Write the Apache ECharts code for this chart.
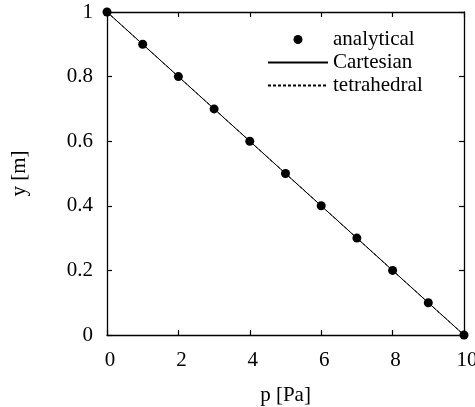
<!DOCTYPE html>
<html><head><meta charset="utf-8">
<script src="https://cdn.jsdelivr.net/npm/echarts@6/dist/echarts.min.js"></script>
<style>html,body{margin:0;padding:0;background:#fff}#c{width:475px;height:407px}</style>
</head><body><div id="c"></div>
<script>
const pAnalytical = [0,1,2,3,4,5,6,7,8,9,10];
const yAnalytical = [1,0.9,0.8,0.7,0.6,0.5,0.4,0.3,0.2,0.1,0];
const pCartesian = [0,10];
const yCartesian = [1,0];
const pTetra = [0,10];
const yTetra = [1,0];
const xTicks = [0,2,4,6,8,10];
const yTicks = [0,0.2,0.4,0.6,0.8,1];

const FONT = 'Liberation Serif';
const txt = {fontFamily: FONT, fontSize: 21, color: '#000'};
const zip = (a,b) => a.map((v,i)=>[v,b[i]]);
const chart = echarts.init(document.getElementById('c'));
const axLine = {show:true, onZero:false, lineStyle:{color:'#000', width:1.3}};
const tick = {show:true, inside:true, length:5, lineStyle:{color:'#000', width:1.2}};
const hidden = {color:'rgba(0,0,0,0)', borderWidth:0, opacity:0};
chart.setOption({
  animation:false,
  grid:{left:107, right:11, top:12, bottom:72, containLabel:false, outerBoundsMode:'none'},
  legend:{
    orient:'vertical', left:262, top:24, itemWidth:60, itemHeight:9, itemGap:2,
    textStyle:Object.assign({}, txt, {lineHeight:21}),
    data:[{name:'analytical'},{name:'Cartesian', itemStyle:hidden},{name:'tetrahedral', itemStyle:hidden}]
  },
  xAxis:[
    {type:'value', min:0, max:10, interval:2, name:'p [Pa]', nameLocation:'middle', nameGap:50,
     nameTextStyle:txt, axisLabel:Object.assign({margin:15, padding:[0,0,0,6]}, txt), axisLine:axLine, axisTick:tick, splitLine:{show:false}},
    {type:'value', position:'top', min:0, max:10, interval:2, axisLabel:{show:false}, axisLine:axLine, axisTick:tick, splitLine:{show:false}}
  ],
  yAxis:[
    {type:'value', min:0, max:1, interval:0.2, name:'y [m]', nameLocation:'middle', nameGap:77,
     nameTextStyle:txt, axisLabel:Object.assign({margin:14}, txt), axisLine:axLine, axisTick:tick, splitLine:{show:false}},
    {type:'value', position:'right', min:0, max:1, interval:0.2, axisLabel:{show:false}, axisLine:axLine, axisTick:tick, splitLine:{show:false}}
  ],
  series:[
    {name:'Cartesian', type:'line', data:zip(pCartesian,yCartesian), symbol:'none',
     lineStyle:{color:'#000', width:1}, itemStyle:{color:'#000'}},
    {name:'tetrahedral', type:'line', data:zip(pTetra,yTetra), symbol:'none',
     lineStyle:{color:'#000', width:1, type:[3,2]}, itemStyle:{color:'#000'}},
    {name:'analytical', type:'scatter', data:zip(pAnalytical,yAnalytical), symbol:'circle', symbolSize:9,
     itemStyle:{color:'#000', opacity:1}, z:5}
  ]
});
</script></body></html>
